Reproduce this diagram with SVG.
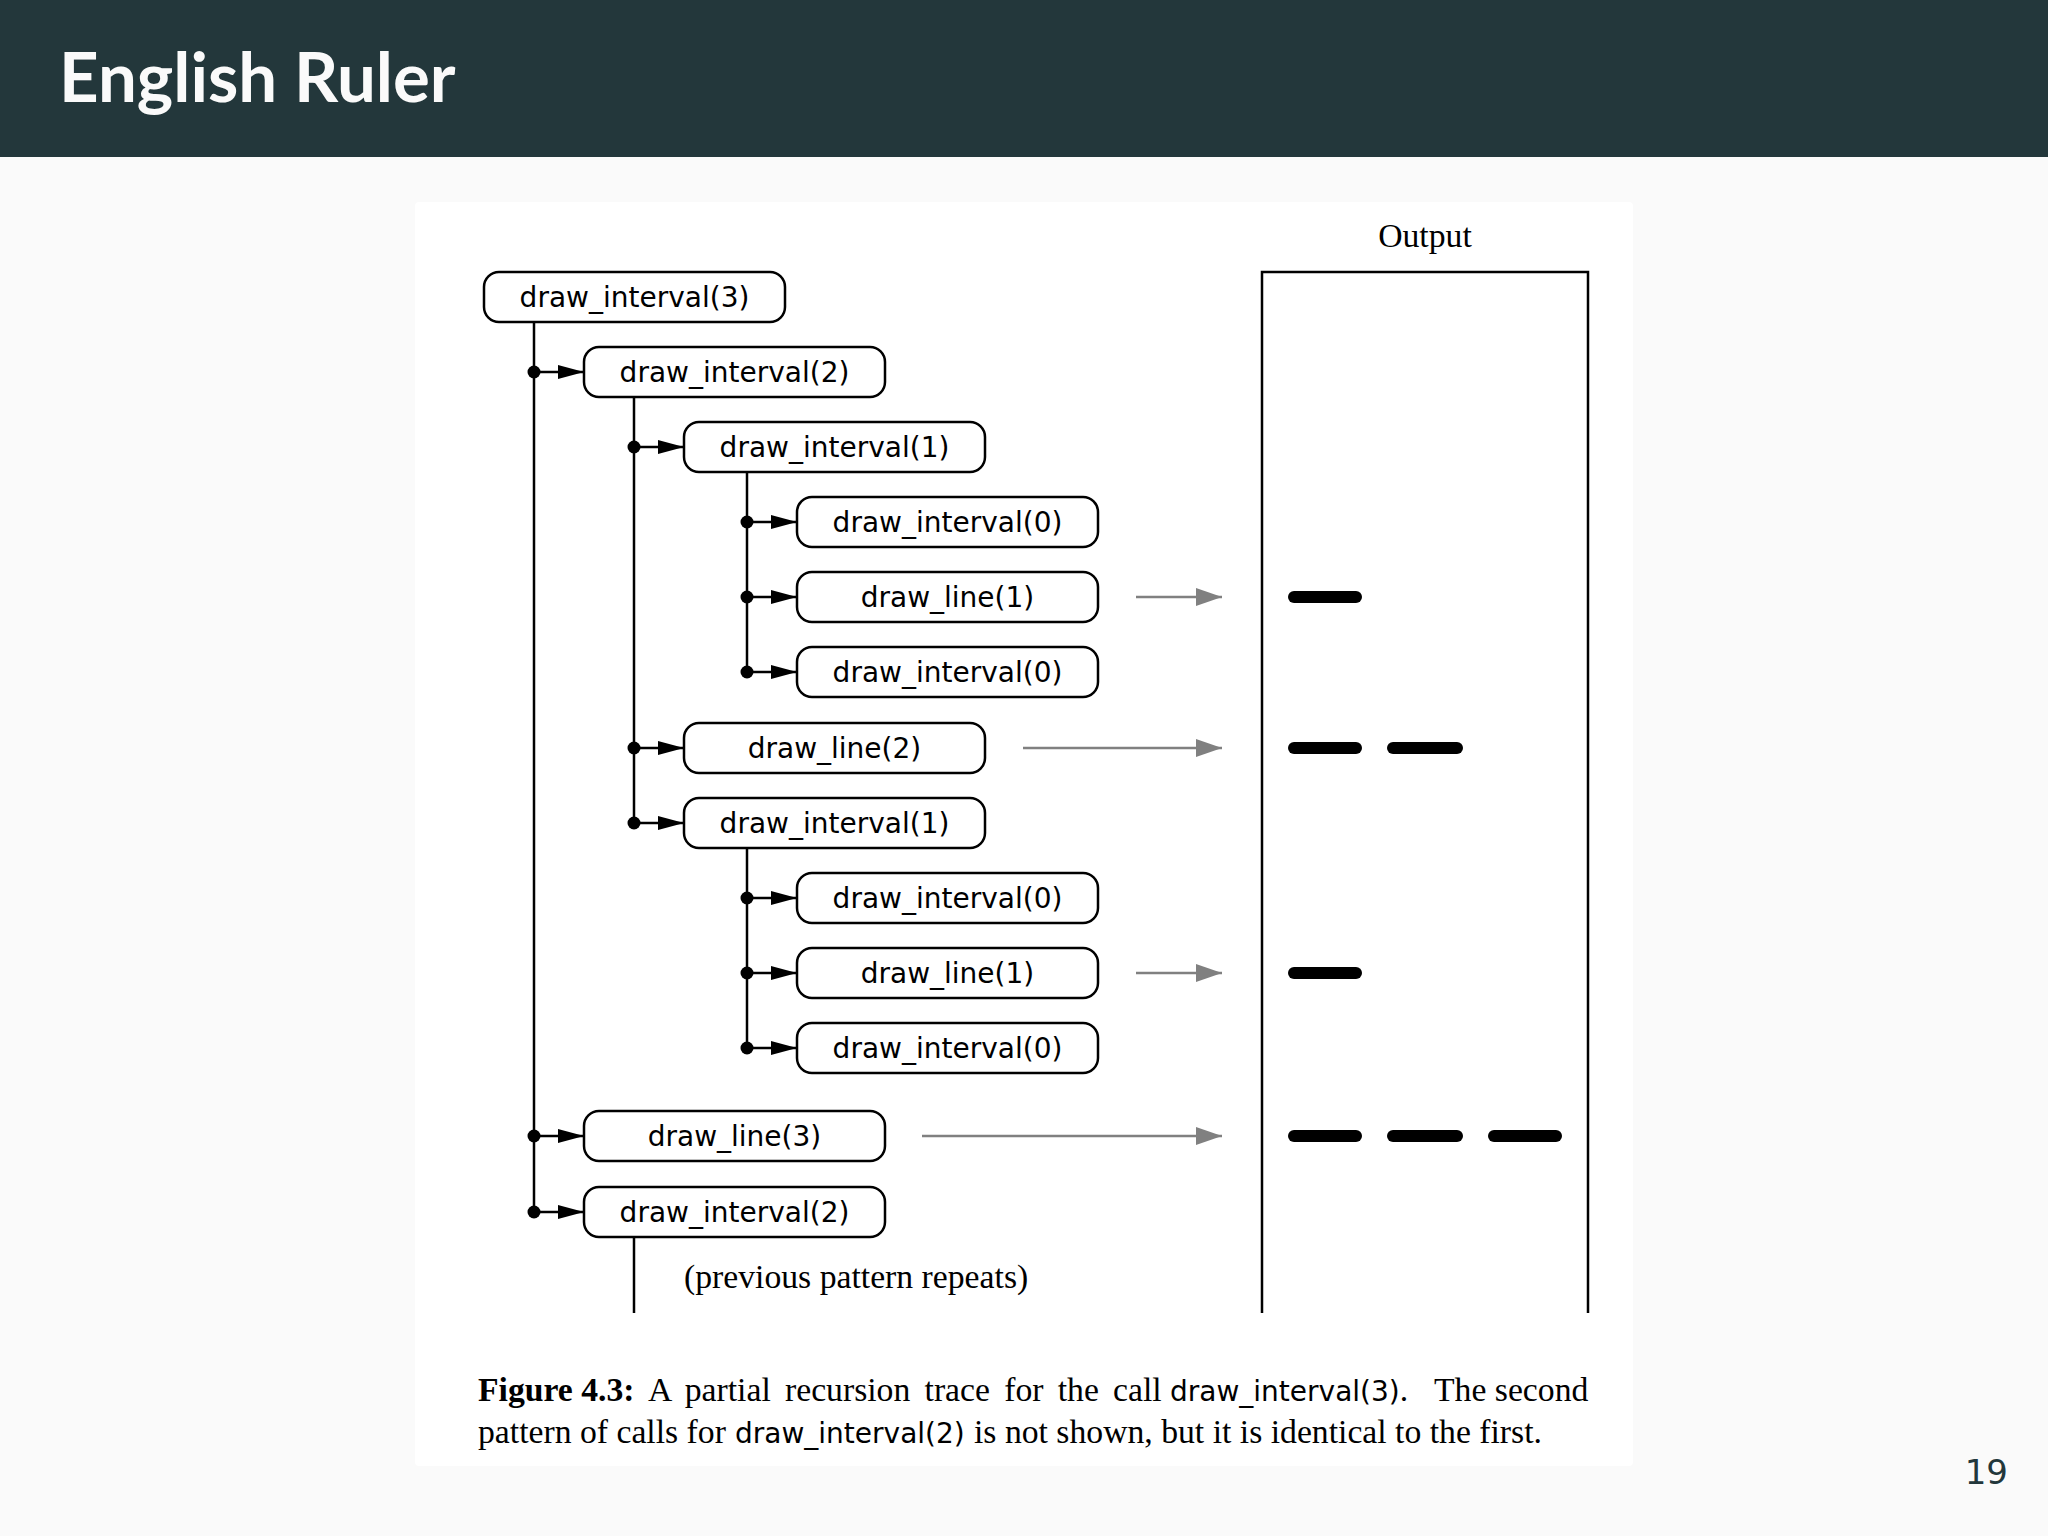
<svg xmlns="http://www.w3.org/2000/svg" width="2048" height="1536" viewBox="0 0 2048 1536">
<defs>
<style>
.node rect{fill:#fff;stroke:#000;stroke-width:2.5}
.node text{font-family:"DejaVu Sans",sans-serif;font-size:28px;fill:#000;text-anchor:middle}
.vl{stroke:#000;stroke-width:2.5;fill:none}
.call{stroke:#000;stroke-width:2.5;fill:none;marker-end:url(#ah)}
.out{stroke:#808080;stroke-width:2.5;fill:none;marker-end:url(#gah)}
.dot{fill:#000}
.tick{stroke:#000;stroke-width:12;stroke-linecap:round}
.serif{font-family:"Liberation Serif","Times New Roman",serif;font-size:33.7px;fill:#000}
.sans{font-family:"DejaVu Sans",sans-serif;font-size:28px;fill:#000}
</style>
<marker id="ah" markerUnits="userSpaceOnUse" markerWidth="26" markerHeight="14" refX="26" refY="7" orient="auto"><path d="M0,0 L26,7 L0,14 z" fill="#000"/></marker>
<marker id="gah" markerUnits="userSpaceOnUse" markerWidth="26" markerHeight="18" refX="26" refY="9" orient="auto"><path d="M0,0 L26,9 L0,18 z" fill="#808080"/></marker>
</defs>
<rect width="2048" height="1536" fill="#fafafa"/>
<rect x="0" y="0" width="2048" height="157" fill="#23373b"/>
<text x="59" y="102" font-family="Lato,sans-serif" font-weight="bold" font-size="69" fill="#fafafa">English Ruler</text>
<rect x="415" y="202" width="1218" height="1264" rx="4" fill="#fff"/>

<g id="connectors">
<path class="vl" d="M534,322 V1212"/>
<path class="vl" d="M634,397 V823"/>
<path class="vl" d="M747,472 V672"/>
<path class="vl" d="M747,848 V1048"/>
<path class="vl" d="M634,1237 V1313"/>
<path class="call" d="M534,372 H584"/>
<path class="call" d="M534,1136 H584"/>
<path class="call" d="M534,1212 H584"/>
<path class="call" d="M634,447 H684"/>
<path class="call" d="M634,748 H684"/>
<path class="call" d="M634,823 H684"/>
<path class="call" d="M747,522 H797"/>
<path class="call" d="M747,597 H797"/>
<path class="call" d="M747,672 H797"/>
<path class="call" d="M747,898 H797"/>
<path class="call" d="M747,973 H797"/>
<path class="call" d="M747,1048 H797"/>
<circle class="dot" cx="534" cy="372" r="6.5"/>
<circle class="dot" cx="534" cy="1136" r="6.5"/>
<circle class="dot" cx="534" cy="1212" r="6.5"/>
<circle class="dot" cx="634" cy="447" r="6.5"/>
<circle class="dot" cx="634" cy="748" r="6.5"/>
<circle class="dot" cx="634" cy="823" r="6.5"/>
<circle class="dot" cx="747" cy="522" r="6.5"/>
<circle class="dot" cx="747" cy="597" r="6.5"/>
<circle class="dot" cx="747" cy="672" r="6.5"/>
<circle class="dot" cx="747" cy="898" r="6.5"/>
<circle class="dot" cx="747" cy="973" r="6.5"/>
<circle class="dot" cx="747" cy="1048" r="6.5"/>
<path class="out" d="M1136,597 H1222"/>
<path class="out" d="M1023,748 H1222"/>
<path class="out" d="M1136,973 H1222"/>
<path class="out" d="M922,1136 H1222"/>
</g>

<g id="n0" class="node"><rect x="484" y="272" width="301" height="50" rx="15"/><text x="634.5" y="307">draw_interval(3)</text></g>
<g id="n1" class="node"><rect x="584" y="347" width="301" height="50" rx="15"/><text x="734.5" y="382">draw_interval(2)</text></g>
<g id="n2" class="node"><rect x="684" y="422" width="301" height="50" rx="15"/><text x="834.5" y="457">draw_interval(1)</text></g>
<g id="n3" class="node"><rect x="797" y="497" width="301" height="50" rx="15"/><text x="947.5" y="532">draw_interval(0)</text></g>
<g id="n4" class="node"><rect x="797" y="572" width="301" height="50" rx="15"/><text x="947.5" y="607">draw_line(1)</text></g>
<g id="n5" class="node"><rect x="797" y="647" width="301" height="50" rx="15"/><text x="947.5" y="682">draw_interval(0)</text></g>
<g id="n6" class="node"><rect x="684" y="723" width="301" height="50" rx="15"/><text x="834.5" y="758">draw_line(2)</text></g>
<g id="n7" class="node"><rect x="684" y="798" width="301" height="50" rx="15"/><text x="834.5" y="833">draw_interval(1)</text></g>
<g id="n8" class="node"><rect x="797" y="873" width="301" height="50" rx="15"/><text x="947.5" y="908">draw_interval(0)</text></g>
<g id="n9" class="node"><rect x="797" y="948" width="301" height="50" rx="15"/><text x="947.5" y="983">draw_line(1)</text></g>
<g id="n10" class="node"><rect x="797" y="1023" width="301" height="50" rx="15"/><text x="947.5" y="1058">draw_interval(0)</text></g>
<g id="n11" class="node"><rect x="584" y="1111" width="301" height="50" rx="15"/><text x="734.5" y="1146">draw_line(3)</text></g>
<g id="n12" class="node"><rect x="584" y="1187" width="301" height="50" rx="15"/><text x="734.5" y="1222">draw_interval(2)</text></g>

<text class="serif" x="684" y="1288">(previous pattern repeats)</text>

<g id="output">
<text class="serif" x="1425" y="247" text-anchor="middle">Output</text>
<path class="vl" d="M1262,1313 V272 H1588 V1313"/>
<line class="tick" x1="1294" y1="597" x2="1356" y2="597"/>
<line class="tick" x1="1294" y1="748" x2="1356" y2="748"/>
<line class="tick" x1="1393" y1="748" x2="1457" y2="748"/>
<line class="tick" x1="1294" y1="973" x2="1356" y2="973"/>
<line class="tick" x1="1294" y1="1136" x2="1356" y2="1136"/>
<line class="tick" x1="1393" y1="1136" x2="1457" y2="1136"/>
<line class="tick" x1="1494" y1="1136" x2="1556" y2="1136"/>
</g>

<g id="caption">
<text class="serif" x="478" y="1401" font-weight="bold">Figure 4.3:</text>
<text class="serif" x="648" y="1401" word-spacing="5.8">A partial recursion trace for the call</text>
<text class="sans" x="1170" y="1401">draw_interval(3)<tspan class="serif">.</tspan></text>
<text class="serif" x="1434" y="1401">The second</text>
<text class="serif" x="478" y="1443">pattern of calls for</text>
<text class="sans" x="735" y="1443">draw_interval(2)</text>
<text class="serif" x="974" y="1443">is not shown, but it is identical to the first.</text>
</g>

<text x="2008" y="1484" text-anchor="end" font-family="DejaVu Sans,sans-serif" font-size="34" fill="#23373b">19</text>
</svg>
